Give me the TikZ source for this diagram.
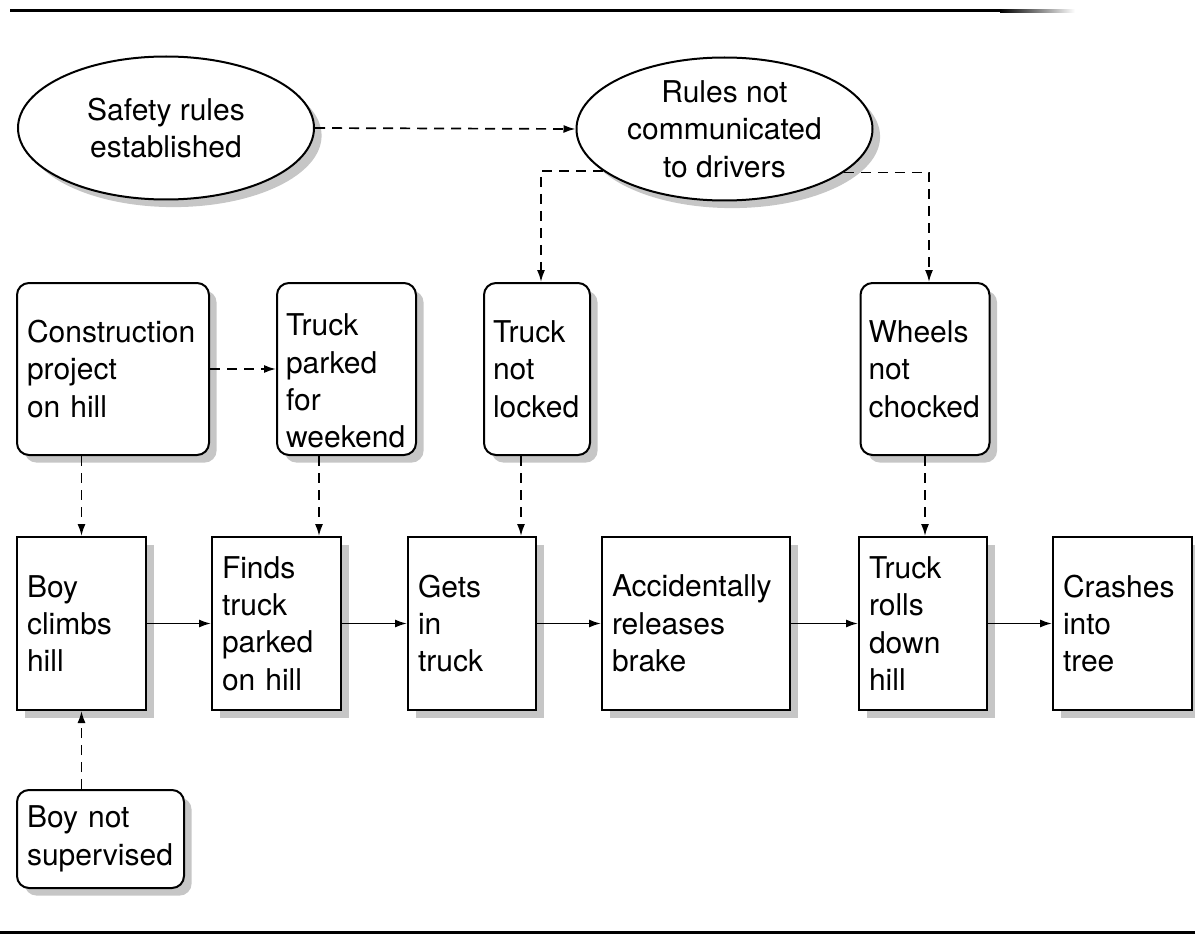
\documentclass[tikz,border=0pt]{standalone}
\usepackage{fontspec}
\setmainfont{TeX Gyre Heros}
\usetikzlibrary{shapes.geometric,shadows,arrows.meta,calc}
\begin{document}
\begin{tikzpicture}[x=0.5pt,y=-0.5pt,
  every node/.style={font=\fontsize{15}{18.7}\selectfont},
  shad/.style={drop shadow={shadow xshift=3.8pt,shadow yshift=-3.8pt,fill=gray!45,opacity=1}},
  causebox/.style={draw,line width=1pt,rounded corners=6pt,fill=white,shad,align=left,inner xsep=5pt,minimum height=86pt,text width=#1},
  eventbox/.style={draw,line width=1pt,fill=white,shad,align=left,inner xsep=5pt,minimum height=86.5pt,text width=#1},
  oval/.style={ellipse,draw,line width=1pt,fill=white,shad,align=center,inner sep=0pt,minimum width=148pt,minimum height=71.5pt},
  dasharrow/.style={line width=0.85pt,dash pattern=on 5pt off 3.5pt,-{Latex[length=6pt,width=4pt]}},
  solidarrow/.style={line width=0.85pt,-{Latex[length=6pt,width=4pt]}}]
\useasboundingbox (0,0) rectangle (1195,947);
% rules
\draw[line width=1.5pt] (10,11) -- (1000,11);
\shade[left color=black,right color=white] (1000,9.5) rectangle (1075,12.5);
\draw[line width=1.5pt] (0,932) -- (1195,932);
% ovals
\node[oval] (E1) at (166,128) {Safety rules\\established};
\node[oval] (E2) at (724.5,129) {Rules not\\communicated\\to drivers};
% cause boxes
\node[causebox=86pt] (cons) at (113,369) {Construction\\project\\on hill};
\node[causebox=60.5pt,inner xsep=4.5pt,inner ysep=1pt,text height=23pt] (park) at (346.5,369) {Truck\\parked\\for\\weekend};
\node[causebox=44pt,inner xsep=4.5pt] (lock) at (537,369) {Truck\\not\\locked};
\node[causebox=56.5pt,inner xsep=4pt] (chock) at (925,369) {Wheels\\not\\chocked};
\node[causebox=73.5pt,minimum height=49pt] (sup) at (100.5,839) {Boy not\\supervised};
% event boxes
\node[eventbox=54.5pt] (boy) at (81.5,623.5) {Boy\\climbs\\hill};
\node[eventbox=54.5pt] (finds) at (276.5,623.5) {Finds\\truck\\parked\\on hill};
\node[eventbox=54pt] (gets) at (472,623.5) {Gets\\in\\truck};
\node[eventbox=84pt] (acc) at (696,623.5) {Accidentally\\releases\\brake};
\node[eventbox=54pt] (rolls) at (923,623.5) {Truck\\rolls\\down\\hill};
\node[eventbox=59.5pt] (crash) at (1122.5,623.5) {Crashes\\into\\tree};
% helper coordinates
\coordinate (p1) at ([xshift=-13.75pt]park.south);
\coordinate (p2) at ([xshift=-8pt]lock.south);
\coordinate (q1) at ([xshift=2pt]lock.north);
\coordinate (q2) at ([xshift=2pt]chock.north);
% dashed connectors
\draw[dasharrow] (E1.east) -- (E2.west);
\draw[dasharrow] (E2.199) -| (q1);
\draw[dasharrow] (E2.340) -| (q2);
\draw[dasharrow] (cons.east) -- (park.west);
\draw[dasharrow] (cons.south -| boy.north) -- (boy.north);
\draw[dasharrow] (p1) -- (p1 |- finds.north);
\draw[dasharrow] (p2) -- (p2 |- gets.north);
\draw[dasharrow] (chock.south) -- (chock.south |- rolls.north);
\draw[dasharrow] (boy.south |- sup.north) -- (boy.south);
% solid connectors
\draw[solidarrow] (boy.east) -- (finds.west);
\draw[solidarrow] (finds.east) -- (gets.west);
\draw[solidarrow] (gets.east) -- (acc.west);
\draw[solidarrow] (acc.east) -- (rolls.west);
\draw[solidarrow] (rolls.east) -- (crash.west);
\end{tikzpicture}
\end{document}
